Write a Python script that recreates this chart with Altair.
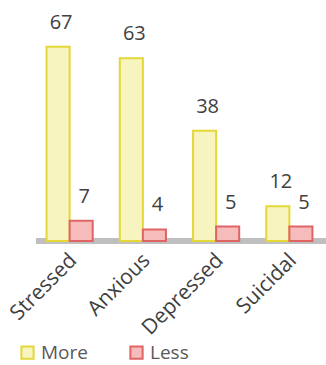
import altair as alt
import pandas as pd

categories = ["Stressed", "Anxious", "Depressed", "Suicidal"]
more_values = [67, 63, 38, 12]
less_values = [7, 4, 5, 5]
series = ["More", "Less"]

rows = []
for c, m, l in zip(categories, more_values, less_values):
    rows.append({"cat": c, "series": "More", "value": m})
    rows.append({"cat": c, "series": "Less", "value": l})
df = pd.DataFrame(rows)

fill_colors = ["#f8f4c0", "#f6bcbc"]
stroke_colors = ["#e3d838", "#e06464"]

x = alt.X("cat:N", sort=categories, title=None,
          scale=alt.Scale(paddingInner=0.37, paddingOuter=0.185),
          axis=alt.Axis(labelAngle=-45, labelAlign="right", labelBaseline="middle",
                        labelFontSize=21, labelColor="#404040", labelFont="Open Sans",
                        labelPadding=16, ticks=False, domain=False, labelOffset=4,
                        labelLimit=200))
y = alt.Y("value:Q", title=None, scale=alt.Scale(domain=[0, 80]), axis=None)
xo = alt.XOffset("series:N", sort=series)
color = alt.Color("series:N", sort=series, title=None,
                  scale=alt.Scale(domain=series, range=fill_colors),
                  legend=alt.Legend(orient="none", legendX=-15, legendY=334, direction="horizontal",
                                    symbolType="square", symbolSize=150, symbolStrokeWidth=2,
                                    labelFontSize=19, labelColor="#595959", labelFont="Open Sans",
                                    columnPadding=38))
stroke = alt.Stroke("series:N", sort=series, scale=alt.Scale(domain=series, range=stroke_colors),
                    legend=None)

floor = alt.Chart(df).mark_rule(color="#bfbfbf", strokeWidth=5).encode(
    y=alt.value(232), x=alt.value(3), x2=alt.value(293)
)

bars = alt.Chart(df).mark_bar(strokeWidth=2).encode(
    x=x, xOffset=xo, y=y, color=color, stroke=stroke
)

labels = alt.Chart(df).mark_text(dy=-24, dx=3, fontSize=20, color="#404040", font="Open Sans").encode(
    x=x, xOffset=xo, y=y, text="value:Q"
)

chart = alt.layer(floor, bars, labels).properties(
    width=293, height=232,
    autosize=alt.AutoSizeParams(type="none"),
    padding={"left": 33, "top": 9, "right": 0, "bottom": 124},
).configure_view(stroke=None)

chart.save("out.html", embed_options={"renderer": "svg", "actions": False})
